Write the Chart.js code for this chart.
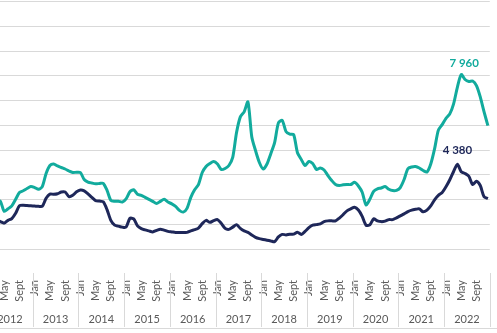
<!DOCTYPE html>
<html>
<head>
<meta charset="utf-8">
<script src="https://cdn.jsdelivr.net/npm/chart.js"></script>
<style>
  html, body { margin: 0; padding: 0; background: #fff; overflow: hidden; }
  body { width: 497px; height: 333px; position: relative; }
  #box { position: absolute; top: 0; left: -20px; width: 530px; height: 333px; }
</style>
</head>
<body>
<div id="box"><canvas id="stage"></canvas></div>
<script>
const years = ['2012', '2013', '2014', '2015', '2016', '2017', '2018', '2019', '2020', '2021', '2022'];
const monthNames = ['Jan', 'Feb', 'Mar', 'Apr', 'May', 'June', 'July', 'Aug', 'Sept', 'Oct', 'Nov', 'Dec'];
const shownMonths = ['Jan', 'May', 'Sept'];

// teal line, one row per year
const upperSeries = [
  3300, 3150, 3000, 2900, 2500, 2600, 2720, 2980, 3250, 3320, 3410, 3490,
  3450, 3380, 3490, 4010, 4330, 4390, 4310, 4250, 4190, 4110, 4050, 4060,
  4050, 3770, 3670, 3630, 3600, 3610, 3620, 3340, 2940, 2900, 2900, 2870,
  3000, 3280, 3360, 3180, 3140, 3060, 2980, 2900, 2810, 2900, 2980, 2870,
  2800, 2700, 2540, 2470, 2620, 3060, 3360, 3570, 4050, 4290, 4410, 4490,
  4390, 4170, 4210, 4330, 4650, 5640, 6270, 6470, 6870, 5480, 4920, 4450,
  4190, 4390, 4800, 5240, 6030, 6130, 5680, 5580, 5560, 4840, 4570, 4330,
  4490, 4410, 4170, 4230, 4150, 3930, 3730, 3570, 3530, 3560, 3570, 3570,
  3660, 3510, 3260, 2760, 2980, 3300, 3400, 3430, 3490, 3380, 3330, 3340,
  3450, 3770, 4200, 4270, 4290, 4230, 4130, 4070, 4390, 4990, 5740, 5960,
  6210, 6390, 6790, 7460, 7960, 7760, 7680, 7700, 7520, 7070, 6470, 5920
];

// navy line
const lowerSeries = [
  2150, 2200, 2150, 2090, 2030, 2140, 2210, 2420, 2720, 2740, 2730, 2720,
  2710, 2700, 2700, 3020, 3190, 3180, 3200, 3270, 3270, 3090, 3140, 3280,
  3350, 3320, 3200, 3060, 2930, 2910, 2880, 2570, 2140, 1950, 1910, 1870,
  1870, 2220, 2200, 1920, 1810, 1760, 1720, 1680, 1740, 1790, 1750, 1700,
  1680, 1660, 1660, 1660, 1660, 1720, 1770, 1830, 2010, 2140, 2060, 2130,
  2170, 2020, 1820, 1780, 1870, 1970, 1820, 1720, 1660, 1560, 1460, 1410,
  1380, 1350, 1320, 1290, 1480, 1580, 1560, 1590, 1590, 1670, 1580, 1700,
  1850, 1950, 1970, 2000, 2090, 2120, 2120, 2120, 2230, 2370, 2520, 2600,
  2660, 2550, 2300, 1950, 1960, 2200, 2120, 2090, 2110, 2170, 2170, 2240,
  2320, 2400, 2490, 2550, 2580, 2600, 2480, 2550, 2720, 2960, 3140, 3250,
  3480, 3760, 4090, 4380, 4080, 4010, 3900, 3570, 3700, 3530, 3080, 3010
];

const TEAL = '#12ab9d';
const NAVY = '#1e2759';
const GRID = '#d9d9d9';
const TEXT = '#595959';

const labels = [];
years.forEach(y => monthNames.forEach(m => labels.push(m)));

// peak labels: which series, text offset from the point
const peakLabels = [
  { dataset: 0, dx: 3, dy: 8 },
  { dataset: 1, dx: 0, dy: 10 }
];

const fmt = v => String(v).replace(/\B(?=(\d{3})+(?!\d))/g, ' ');

const peakPlugin = {
  id: 'peaks',
  afterDatasetsDraw(chart) {
    const ctx = chart.ctx;
    ctx.save();
    ctx.font = 'bold 11.5px Lato';
    ctx.textAlign = 'center';
    ctx.textBaseline = 'alphabetic';
    peakLabels.forEach(p => {
      const ds = chart.data.datasets[p.dataset];
      const i = ds.data.indexOf(Math.max(...ds.data));
      const pt = chart.getDatasetMeta(p.dataset).data[i];
      ctx.fillStyle = ds.borderColor;
      ctx.fillText(fmt(ds.data[i]), pt.x + p.dx, pt.y - p.dy);
    });
    ctx.restore();
  }
};

// year row under the month labels
const yearAxis = {
  id: 'yearAxis',
  afterDraw(chart) {
    const ctx = chart.ctx;
    const x = chart.scales.x;
    const step = x.getPixelForValue(1) - x.getPixelForValue(0);
    ctx.save();
    ctx.strokeStyle = GRID;
    ctx.lineWidth = 1;
    ctx.fillStyle = TEXT;
    ctx.font = '11px Lato';
    ctx.textAlign = 'center';
    ctx.textBaseline = 'alphabetic';
    const sep = px => {
      const e = Math.round(px) + 0.5;
      ctx.beginPath();
      ctx.moveTo(e, x.top - 1);
      ctx.lineTo(e, x.bottom - 6);
      ctx.stroke();
    };
    years.forEach((yr, k) => {
      const first = x.getPixelForValue(k * 12);
      const last = x.getPixelForValue(k * 12 + 11);
      sep(first - step / 2);
      ctx.fillText(yr, (first + last) / 2, x.bottom - 10);
    });
    sep(x.getPixelForValue(years.length * 12 - 1) + step / 2);
    ctx.beginPath();
    ctx.moveTo(0, x.bottom - 4.5);
    ctx.lineTo(chart.width, x.bottom - 4.5);
    ctx.stroke();
    ctx.restore();
  }
};

const chart = new Chart(document.getElementById('stage'), {
  type: 'line',
  data: {
    labels: labels,
    datasets: [{
      data: upperSeries,
      borderColor: TEAL,
      borderWidth: 3,
      pointRadius: 0,
      tension: 0.25
    }, {
      data: lowerSeries,
      borderColor: NAVY,
      borderWidth: 3,
      pointRadius: 0,
      tension: 0.25
    }]
  },
  options: {
    responsive: true,
    maintainAspectRatio: false,
    animation: false,
    layout: { padding: { left: 0, right: 8, top: 0, bottom: 0 } },
    plugins: { legend: { display: false }, tooltip: { enabled: false } },
    scales: {
      x: {
        offset: true,
        border: { display: false },
        grid: { display: false, drawTicks: false },
        ticks: {
          autoSkip: false,
          minRotation: 90,
          maxRotation: 90,
          padding: 6,
          color: TEXT,
          font: { family: 'Lato', size: 11 },
          callback: (v, i) => shownMonths.includes(labels[i]) ? labels[i] : ''
        },
        afterFit: s => { s.height = 59; }
      },
      y: {
        min: 0,
        max: 10873,
        border: { display: false },
        grid: {
          drawTicks: false,
          lineWidth: 1,
          color: c => (c.tick.value === 0 || c.tick.value === 10000) ? 'rgba(0,0,0,0)' : GRID
        },
        ticks: { display: false, stepSize: 1000 },
        afterFit: s => { s.width = 0; }
      }
    }
  },
  plugins: [peakPlugin, yearAxis]
});

// crop like the reference: plot starts left of the window
const PLOT_LEFT = -12.7, PLOT_W = 502.7;
const box = document.getElementById('box');
function place() {
  const a = chart.chartArea;
  const padL = a.left, padR = chart.width - a.right;
  box.style.left = (PLOT_LEFT - padL) + 'px';
  box.style.width = (padL + PLOT_W + padR) + 'px';
  chart.resize();
}
place();
place();
</script>
</body>
</html>
